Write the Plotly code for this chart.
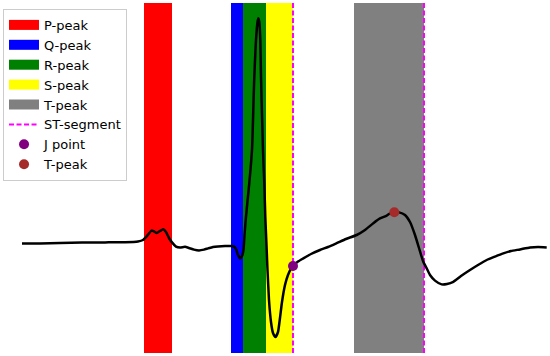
import plotly.graph_objects as go

# ECG beat (sample index, amplitude in mV)
amostras = [0, 18, 38, 60, 83, 103, 116, 121, 125, 129.5, 132, 134.7, 138, 141.3, 144, 147, 150,
            154, 158, 163, 167, 172, 177, 182, 186, 191, 196, 203, 209, 212, 214, 216, 218, 220,
            221.5, 222.5, 224, 227.3, 230, 232.3, 234, 235.5, 236.3, 237.3, 238.3, 239, 241,
            242.3, 243.3, 244.7, 245.5, 247, 249, 251, 253.5, 256, 258, 260, 263, 266, 269, 271,
            276, 281.3, 289, 298, 306, 314.7, 324, 334.7, 343, 351.3, 358, 364.7, 368, 372.3,
            377, 383, 388, 393, 397, 401.3, 405, 408, 413, 419.7, 425, 431.3, 439, 448, 456,
            464.7, 473, 481.3, 489, 498, 508, 516, 524.7]
ecg = [0.002, 0.003, 0.005, 0.007, 0.008, 0.009, 0.013, 0.020, 0.040, 0.067, 0.063, 0.055, 0.065,
       0.074, 0.060, 0.030, 0.008, -0.013, -0.018, -0.014, -0.020, -0.028, -0.032, -0.028, -0.022,
       -0.015, -0.012, -0.010, -0.010, -0.013, -0.025, -0.055, -0.072, -0.060, -0.030, 0.045,
       0.137, 0.305, 0.470, 0.837, 1.020, 1.110, 1.129, 1.110, 1.020, 0.837, 0.470, 0.305, 0.137,
       -0.030, -0.130, -0.280, -0.390, -0.445, -0.465, -0.440, -0.370, -0.290, -0.205, -0.155,
       -0.123, -0.110, -0.088, -0.072, -0.050, -0.030, -0.015, 0.004, 0.025, 0.045, 0.070, 0.104,
       0.128, 0.142, 0.153, 0.159, 0.158, 0.145, 0.110, 0.045, -0.020, -0.089, -0.125, -0.155,
       -0.183, -0.202, -0.200, -0.189, -0.160, -0.130, -0.105, -0.080, -0.063, -0.047, -0.035,
       -0.027, -0.017, -0.015, -0.017]

# Intervalos das ondas (inicio, fim) em amostras
ondas = ["P-peak", "Q-peak", "R-peak", "S-peak", "T-peak"]
inicio_onda = [122, 209, 221, 244, 332]
fim_onda = [150, 221, 244, 271, 402]
cores_onda = ["#ff0000", "#0000ff", "#008000", "#ffff00", "#808080"]

# segmento ST e pontos marcados
st_segmento = [271, 402]
j_ponto = [271, -0.110]
t_pico = [372.3, 0.159]

x_min, x_max = -22, 528
y_min, y_max = -0.545, 1.205

fig = go.Figure()

for nome, x0, x1, cor in zip(ondas, inicio_onda, fim_onda, cores_onda):
    fig.add_trace(go.Scatter(x=[x0, x1, x1, x0, x0], y=[y_min, y_min, y_max, y_max, y_min],
                             fill="toself", fillcolor=cor, mode="lines", line=dict(width=0),
                             showlegend=False, hoverinfo="skip"))

# entradas da legenda para as faixas
for nome, cor in zip(ondas, cores_onda):
    fig.add_trace(go.Scatter(x=[None], y=[None], mode="lines", name=nome,
                             line=dict(color=cor, width=10)))

for i, xs in enumerate(st_segmento):
    fig.add_trace(go.Scatter(x=[xs, xs], y=[y_min, y_max], mode="lines", name="ST-segment",
                             line=dict(color="#ff00ff", width=2, dash="5px,2.5px"),
                             showlegend=(i == 0), hoverinfo="skip"))

fig.add_trace(go.Scatter(x=amostras, y=ecg, mode="lines", showlegend=False,
                         line=dict(color="black", width=2.5, shape="spline", smoothing=0.5)))

fig.add_trace(go.Scatter(x=[j_ponto[0]], y=[j_ponto[1]], mode="markers", name="J point",
                         marker=dict(color="#800080", size=10)))
fig.add_trace(go.Scatter(x=[t_pico[0]], y=[t_pico[1]], mode="markers", name="T-peak",
                         marker=dict(color="#a52a2a", size=10)))

fig.update_layout(
    width=550, height=356,
    margin=dict(l=0, r=0, t=3, b=3),
    plot_bgcolor="white", paper_bgcolor="white",
    font=dict(family="DejaVu Sans", color="black"),
    xaxis=dict(range=[x_min, x_max], visible=False),
    yaxis=dict(range=[y_min, y_max], visible=False),
    legend=dict(x=0.0055, y=0.983, xanchor="left", yanchor="top",
                bgcolor="rgba(255,255,255,0.8)", bordercolor="#cccccc", borderwidth=1,
                font=dict(size=13)),
)

# tira a margem padrao do body para o grafico ficar colado no canto
fig.write_html("out.html", config={"displayModeBar": False},
               post_script="document.body.style.margin='0';")
